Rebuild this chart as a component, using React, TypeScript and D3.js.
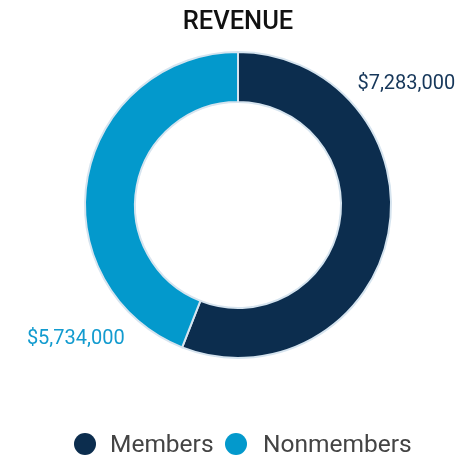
import React, { useEffect, useRef } from 'react';
import * as d3 from 'd3';

// Chart data
const categories = ['Members', 'Nonmembers'];
const revenue = [7283000, 5734000];
const colors = ['#0c2d4e', '#0399cc'];
const labelColors = ['#16375a', '#129bcf'];

const App = () => {
  const chartRef = useRef<HTMLDivElement>(null);

  useEffect(() => {
    const width = 466;
    const height = 456;
    const cx = 238;
    const cy = 205;
    const outerR = 153;
    const innerR = 103;

    const root = d3.select(chartRef.current);
    root.selectAll('*').remove();

    const svg = root
      .append('svg')
      .attr('width', width)
      .attr('height', height)
      .style('position', 'fixed')
      .style('left', '0px')
      .style('top', '0px')
      .style('font-family', 'Roboto, sans-serif');

    // Title
    svg.append('text')
      .attr('x', cx)
      .attr('y', 29)
      .attr('text-anchor', 'middle')
      .attr('font-size', 25.5)
      .attr('font-weight', 500)
      .attr('fill', '#111')
      .text('REVENUE');

    const data = categories.map((c, i) => ({ name: c, value: revenue[i], color: colors[i], labelColor: labelColors[i] }));

    const pie = d3.pie<any>().value(d => d.value).sort(null);
    const arcs = pie(data);

    const arc = d3.arc<any>().innerRadius(innerR).outerRadius(outerR);

    const g = svg.append('g').attr('transform', `translate(${cx},${cy})`);

    // Slices
    g.selectAll('path.slice')
      .data(arcs)
      .enter()
      .append('path')
      .attr('class', 'slice')
      .attr('d', arc)
      .attr('fill', d => d.data.color)
      .attr('stroke', '#d6e4ef')
      .attr('stroke-width', 2);

    // Value labels, placed just outside the ring
    const fmt = d3.format('$,');
    const labelR = 173;
    arcs.forEach((a, i) => {
      // members label near the top-right, nonmembers near the bottom-left
      const ang = i === 0 ? a.startAngle + 0.77 : a.endAngle - 2.45;
      const x = Math.sin(ang) * labelR;
      const y = -Math.cos(ang) * labelR;
      g.append('text')
        .attr('x', i === 0 ? x - 1 : x - 3)
        .attr('y', i === 0 ? y + 8 : y + 6)
        .attr('text-anchor', i === 0 ? 'start' : 'end')
        .attr('font-size', 20)
        .attr('fill', a.data.labelColor)
        .text(fmt(a.data.value));
    });

    // Legend
    const legendY = 444;
    const legendX = d3.scalePoint<string>().domain(categories).range([85, 236]);
    const legend = svg.append('g');
    data.forEach((d, i) => {
      const x = legendX(d.name) as number;
      legend.append('circle')
        .attr('cx', x)
        .attr('cy', legendY)
        .attr('r', 11)
        .attr('fill', d.color);
      legend.append('text')
        .attr('x', x + (i === 0 ? 25 : 27))
        .attr('y', legendY + 7.5)
        .attr('font-size', 24.5)
        .attr('fill', '#444')
        .text(d.name);
    });

    return () => {
      d3.select(chartRef.current).selectAll('*').remove();
    };
  }, []);

  return <div ref={chartRef}></div>;
};

export default App;
